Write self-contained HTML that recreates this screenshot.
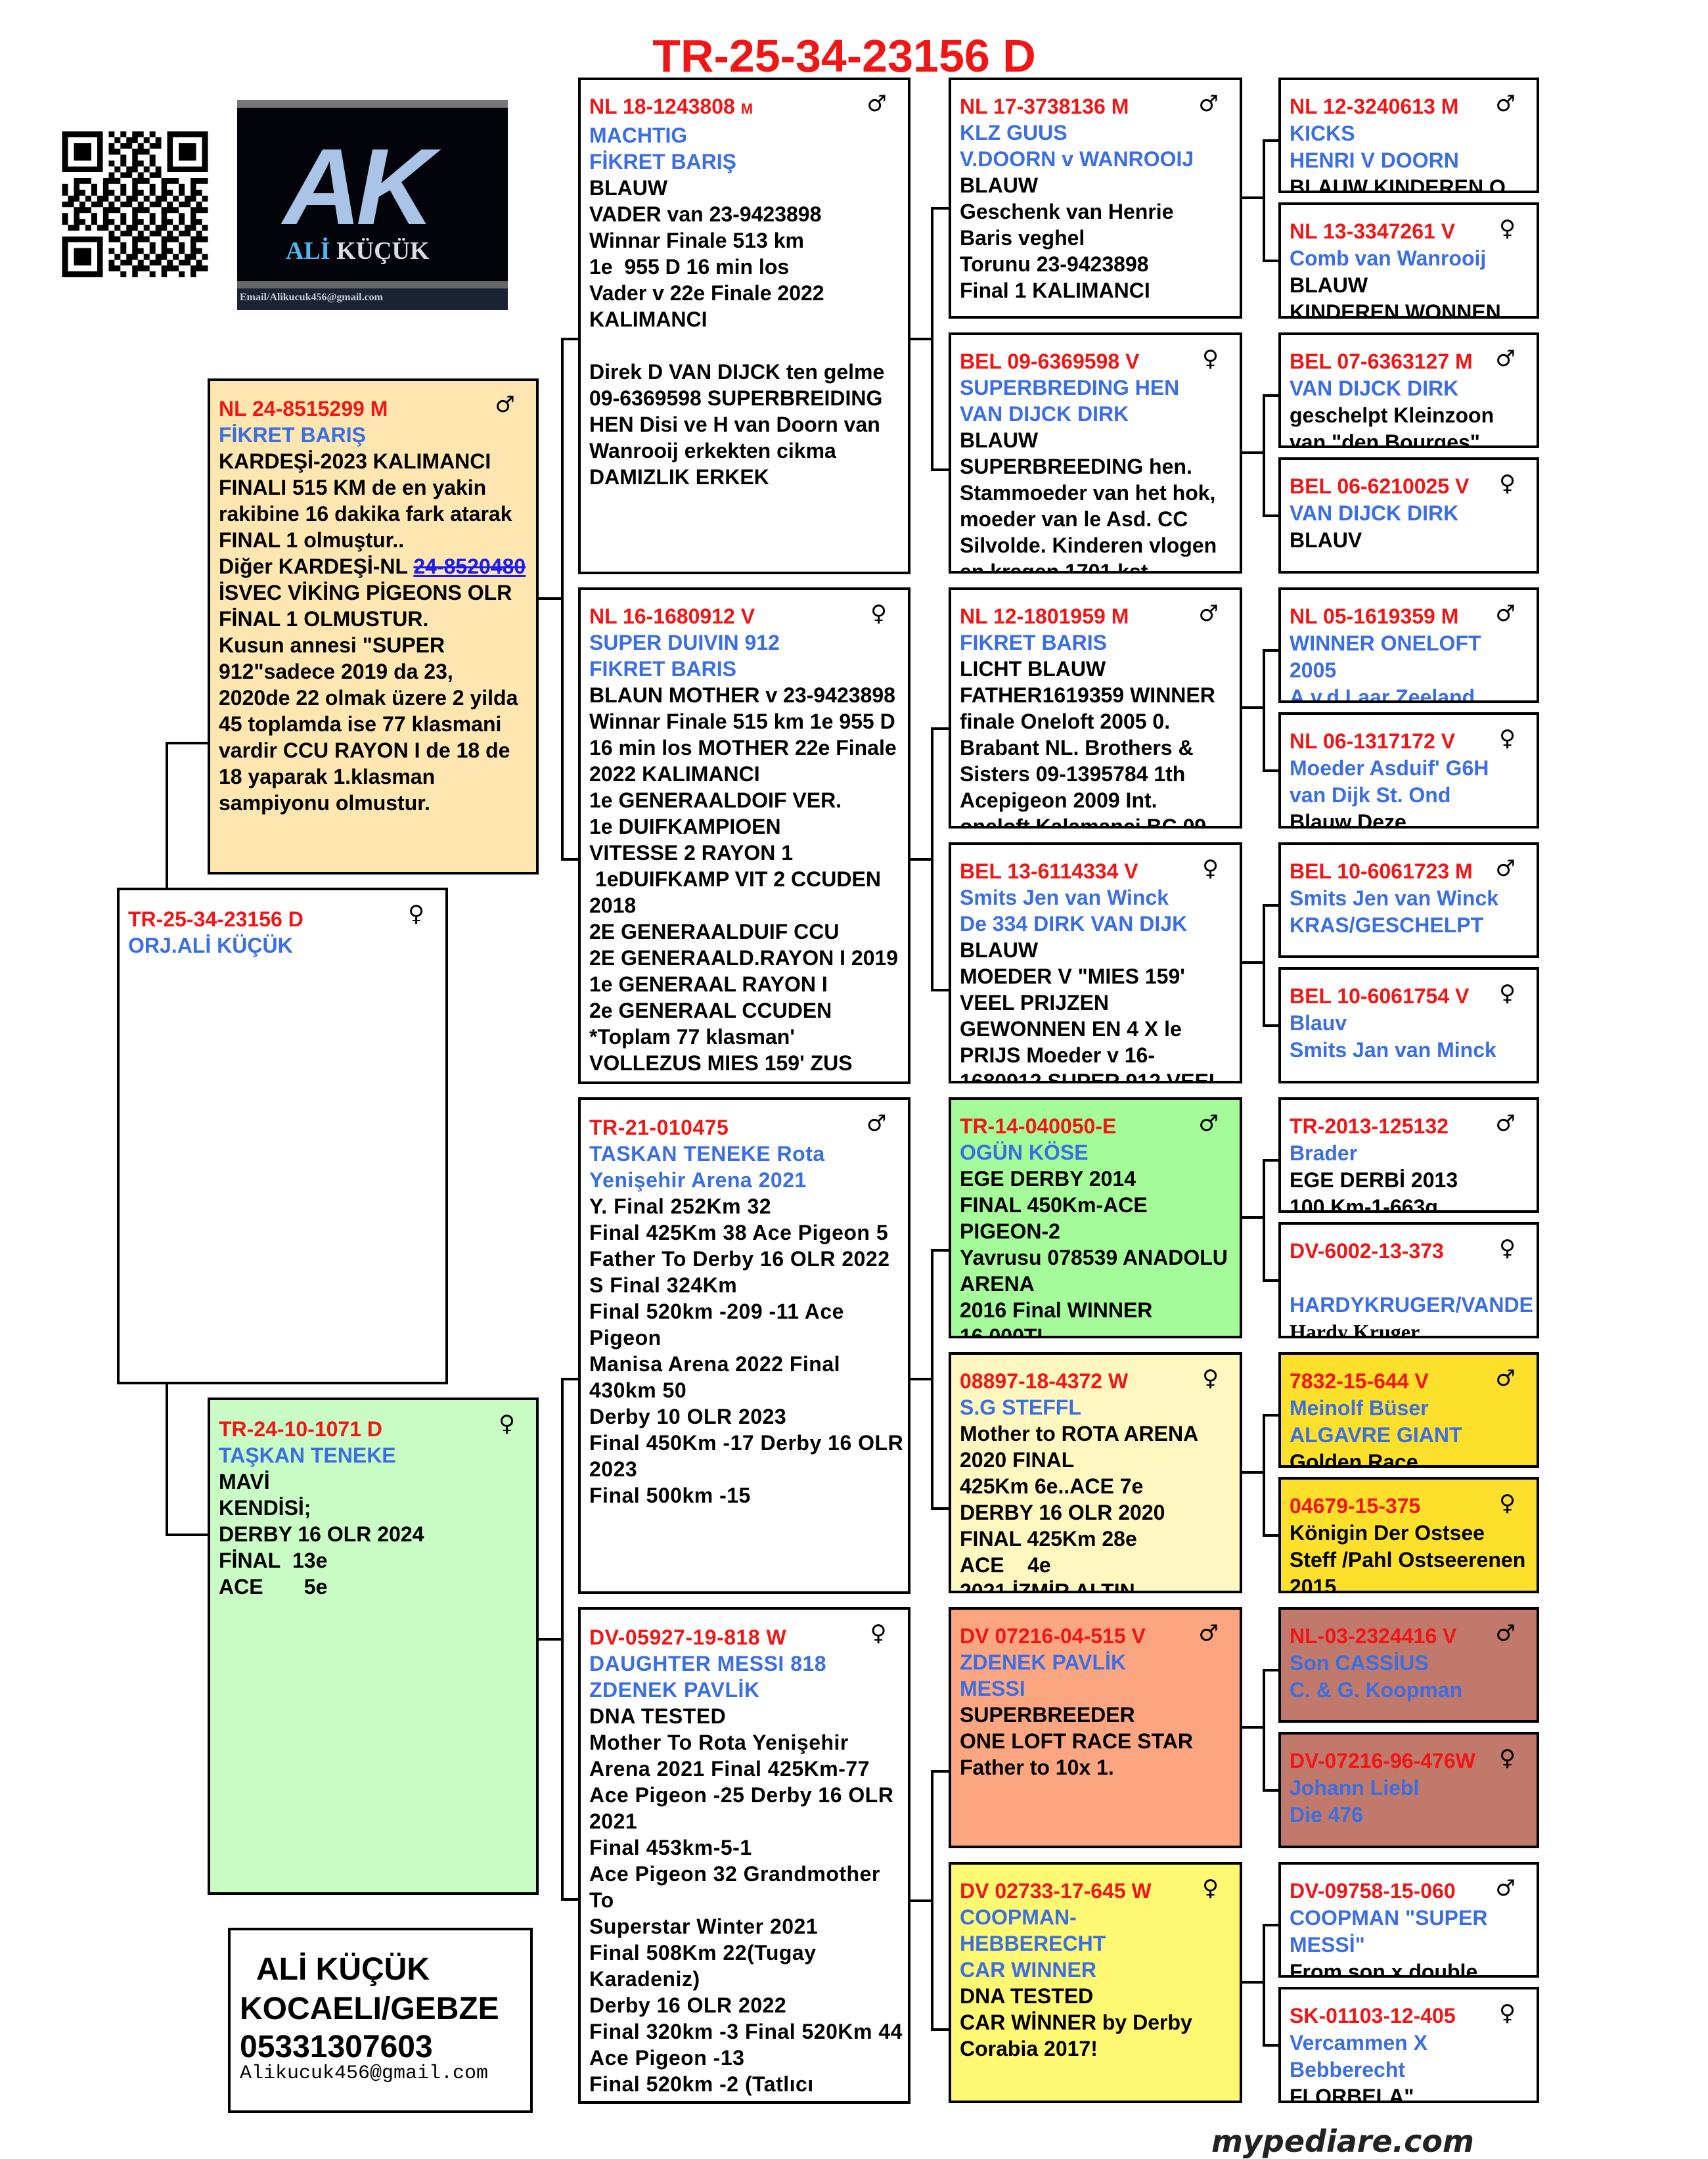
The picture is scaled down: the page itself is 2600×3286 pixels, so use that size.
<!DOCTYPE html>
<html><head><meta charset="utf-8">
<style>
html,body{margin:0;padding:0;background:#fff;}
body{width:2600px;height:3274px;position:relative;overflow:hidden;font-family:"Liberation Sans",sans-serif;}
.bx{position:absolute;box-sizing:border-box;border:4px solid #000;background:#fff;overflow:hidden;padding:20px 6px 0 13px;font:700 32px/40px "Liberation Sans","DejaVu Sans",sans-serif;color:#000;white-space:nowrap}
.c4{line-height:41px}
.r{color:#f01616}.b{color:#3a6ee2}
.sx{position:absolute;right:32px;top:16px;font:400 34px/40px "DejaVu Sans",sans-serif;color:#000}
.ln{position:absolute;background:#000}
</style></head><body>

<div style="position:absolute;left:0;width:2570px;top:50px;text-align:center;font:700 70px/70px 'Liberation Sans',sans-serif;color:#f01616;">TR-25-34-23156 D</div>

<svg style="position:absolute;left:94px;top:200px" width="223" height="222" viewBox="0 0 25 25" shape-rendering="crispEdges">
<defs><pattern id="q" width="5" height="5" patternUnits="userSpaceOnUse">
<path d="M0 0h1v1h-1zM2 0h2v1h-2zM1 1h2v1h-2zM4 1h1v1h-1zM0 2h2v1h-2zM3 2h1v1h-1zM2 3h3v1h-3zM0 4h1v1h-1zM2 4h1v1h-1z" fill="#000"/></pattern></defs>
<rect x="0" y="0" width="25" height="25" fill="url(#q)"/>
<rect x="0" y="0" width="8" height="8" fill="#fff"/><rect x="17" y="0" width="8" height="8" fill="#fff"/><rect x="0" y="17" width="8" height="8" fill="#fff"/>
<path d="M0 0h7v7h-7zM1 1v5h5v-5zM2 2h3v3h-3z M18 0h7v7h-7zM19 1v5h5v-5zM20 2h3v3h-3z M0 18h7v7h-7zM1 19v5h5v-5zM2 20h3v3h-3z" fill="#000" fill-rule="evenodd"/>
</svg>

<div style="position:absolute;left:361px;top:152px;width:412px;height:320px;background:#02040a;overflow:hidden">
 <div style="position:absolute;left:0;top:0;width:412px;height:12px;background:#777"></div>
 <div style="position:absolute;left:0;top:276px;width:412px;height:11px;background:#666"></div>
 <div style="position:absolute;left:0;top:287px;width:412px;height:33px;background:#1b2233"></div>
 <div style="position:absolute;left:70px;top:50px;font:italic 700 165px/165px 'Liberation Sans',sans-serif;color:#a9c4e6;letter-spacing:-8px">AK</div>
 <div style="position:absolute;left:74px;top:210px;font:700 38px/40px 'Liberation Serif',serif;color:#4fb6f0">ALİ <span style="color:#d8dde6">KÜÇÜK</span></div>
 <div style="position:absolute;left:4px;top:291px;font:700 16px/20px 'Liberation Serif',serif;color:#c8ccd4">Email/Alikucuk456@gmail.com</div>
</div>

<div class="ln" style="left:252px;top:1131px;width:4px;height:1207px"></div>
<div class="ln" style="left:252px;top:1129px;width:66px;height:4px"></div>
<div class="ln" style="left:252px;top:2334px;width:66px;height:4px"></div>

<div class="ln" style="left:854px;top:516px;width:4px;height:794px"></div>
<div class="ln" style="left:818px;top:909px;width:40px;height:4px"></div>
<div class="ln" style="left:854px;top:514px;width:28px;height:4px"></div>
<div class="ln" style="left:854px;top:1306px;width:28px;height:4px"></div>

<div class="ln" style="left:854px;top:2099px;width:4px;height:794px"></div>
<div class="ln" style="left:818px;top:2493px;width:40px;height:4px"></div>
<div class="ln" style="left:854px;top:2097px;width:28px;height:4px"></div>
<div class="ln" style="left:854px;top:2889px;width:28px;height:4px"></div>

<div class="ln" style="left:1384px;top:514px;width:37px;height:4px"></div>
<div class="ln" style="left:1417px;top:317px;width:4px;height:400px"></div>
<div class="ln" style="left:1417px;top:315px;width:29px;height:4px"></div>
<div class="ln" style="left:1417px;top:713px;width:29px;height:4px"></div>

<div class="ln" style="left:1384px;top:1306px;width:37px;height:4px"></div>
<div class="ln" style="left:1417px;top:1109px;width:4px;height:400px"></div>
<div class="ln" style="left:1417px;top:1107px;width:29px;height:4px"></div>
<div class="ln" style="left:1417px;top:1505px;width:29px;height:4px"></div>

<div class="ln" style="left:1384px;top:2097px;width:37px;height:4px"></div>
<div class="ln" style="left:1417px;top:1903px;width:4px;height:395px"></div>
<div class="ln" style="left:1417px;top:1901px;width:29px;height:4px"></div>
<div class="ln" style="left:1417px;top:2294px;width:29px;height:4px"></div>

<div class="ln" style="left:1384px;top:2891px;width:37px;height:4px"></div>
<div class="ln" style="left:1417px;top:2696px;width:4px;height:395px"></div>
<div class="ln" style="left:1417px;top:2694px;width:29px;height:4px"></div>
<div class="ln" style="left:1417px;top:3087px;width:29px;height:4px"></div>

<div class="ln" style="left:1889px;top:299px;width:37px;height:4px"></div><div class="ln" style="left:1922px;top:214px;width:4px;height:185px"></div><div class="ln" style="left:1922px;top:212px;width:26px;height:4px"></div><div class="ln" style="left:1922px;top:395px;width:26px;height:4px"></div>
<div class="ln" style="left:1889px;top:687px;width:37px;height:4px"></div><div class="ln" style="left:1922px;top:602px;width:4px;height:185px"></div><div class="ln" style="left:1922px;top:600px;width:26px;height:4px"></div><div class="ln" style="left:1922px;top:783px;width:26px;height:4px"></div>
<div class="ln" style="left:1889px;top:1075px;width:37px;height:4px"></div><div class="ln" style="left:1922px;top:990px;width:4px;height:185px"></div><div class="ln" style="left:1922px;top:988px;width:26px;height:4px"></div><div class="ln" style="left:1922px;top:1171px;width:26px;height:4px"></div>
<div class="ln" style="left:1889px;top:1463px;width:37px;height:4px"></div><div class="ln" style="left:1922px;top:1378px;width:4px;height:185px"></div><div class="ln" style="left:1922px;top:1376px;width:26px;height:4px"></div><div class="ln" style="left:1922px;top:1559px;width:26px;height:4px"></div>
<div class="ln" style="left:1889px;top:1851px;width:37px;height:4px"></div><div class="ln" style="left:1922px;top:1766px;width:4px;height:185px"></div><div class="ln" style="left:1922px;top:1764px;width:26px;height:4px"></div><div class="ln" style="left:1922px;top:1947px;width:26px;height:4px"></div>
<div class="ln" style="left:1889px;top:2239px;width:37px;height:4px"></div><div class="ln" style="left:1922px;top:2154px;width:4px;height:185px"></div><div class="ln" style="left:1922px;top:2152px;width:26px;height:4px"></div><div class="ln" style="left:1922px;top:2335px;width:26px;height:4px"></div>
<div class="ln" style="left:1889px;top:2627px;width:37px;height:4px"></div><div class="ln" style="left:1922px;top:2542px;width:4px;height:185px"></div><div class="ln" style="left:1922px;top:2540px;width:26px;height:4px"></div><div class="ln" style="left:1922px;top:2723px;width:26px;height:4px"></div>
<div class="ln" style="left:1889px;top:3015px;width:37px;height:4px"></div><div class="ln" style="left:1922px;top:2930px;width:4px;height:185px"></div><div class="ln" style="left:1922px;top:2928px;width:26px;height:4px"></div><div class="ln" style="left:1922px;top:3111px;width:26px;height:4px"></div>

<div class="bx" style="left:316px;top:576px;width:504px;height:755px;background:#fde6b0;padding-top:22px"><span class="sx">♂</span>
<span class="r">NL 24-8515299 M</span><br><span class="b">FİKRET BARIŞ</span><br>KARDEŞİ-2023 KALIMANCI<br>FINALI 515 KM de en yakin<br>rakibine 16 dakika fark atarak<br>FINAL 1 olmuştur..<br>Diğer KARDEŞİ-NL <span style="color:#1a1aee;text-decoration:underline line-through">24-8520480</span><br>İSVEC VİKİNG PİGEONS OLR<br>FİNAL 1 OLMUSTUR.<br>Kusun annesi "SUPER<br>912"sadece 2019 da 23,<br>2020de 22 olmak üzere 2 yilda<br>45 toplamda ise 77 klasmani<br>vardir CCU RAYON I de 18 de<br>18 yaparak 1.klasman<br>sampiyonu olmustur.</div>

<div class="bx" style="left:178px;top:1351px;width:504px;height:756px;padding-top:24px"><span class="sx">♀</span>
<span class="r">TR-25-34-23156 D</span><br><span class="b">ORJ.ALİ KÜÇÜK</span></div>

<div class="bx" style="left:316px;top:2127px;width:504px;height:757px;background:#c8fcc4;padding-top:24px"><span class="sx">♀</span>
<span class="r">TR-24-10-1071 D</span><br><span class="b">TAŞKAN TENEKE</span><br>MAVİ<br>KENDİSİ;<br>DERBY 16 OLR 2024<br>FİNAL&nbsp; 13e<br>ACE&nbsp;&nbsp;&nbsp;&nbsp;&nbsp;&nbsp; 5e</div>

<div style="position:absolute;left:347px;top:2934px;width:464px;height:282px;box-sizing:border-box;border:4px solid #000;background:#fff;white-space:nowrap">
 <div style="position:absolute;left:39px;top:30px;font:700 48px/60px 'Liberation Sans',sans-serif">ALİ KÜÇÜK</div>
 <div style="position:absolute;left:14px;top:90px;font:700 48px/60px 'Liberation Sans',sans-serif">KOCAELI/GEBZE</div>
 <div style="position:absolute;left:14px;top:148px;font:700 48px/60px 'Liberation Sans',sans-serif">05331307603</div>
 <div style="position:absolute;left:14px;top:200px;font:400 30px/36px 'Liberation Mono',monospace">Alikucuk456@gmail.com</div>
</div>

<div class="bx" style="left:880px;top:118px;width:506px;height:756px"><span class="sx">♂</span>
<span class="r">NL 18-1243808 <span style="font-size:22px">M</span></span><br><span class="b">MACHTIG</span><br><span class="b">FİKRET BARIŞ</span><br>BLAUW<br>VADER van 23-9423898<br>Winnar Finale 513 km<br>1e&nbsp; 955 D 16 min los<br>Vader v 22e Finale 2022<br>KALIMANCI<br><br>Direk D VAN DIJCK ten gelme<br>09-6369598 SUPERBREIDING<br>HEN Disi ve H van Doorn van<br>Wanrooij erkekten cikma<br>DAMIZLIK ERKEK</div>

<div class="bx" style="left:880px;top:894px;width:506px;height:756px"><span class="sx">♀</span>
<span class="r">NL 16-1680912 V</span><br><span class="b">SUPER DUIVIN 912</span><br><span class="b">FIKRET BARIS</span><br>BLAUN MOTHER v 23-9423898<br>Winnar Finale 515 km 1e 955 D<br>16 min los MOTHER 22e Finale<br>2022 KALIMANCI<br>1e GENERAALDOIF VER.<br>1e DUIFKAMPIOEN<br>VITESSE 2 RAYON 1<br>&nbsp;1eDUIFKAMP VIT 2 CCUDEN<br>2018<br>2E GENERAALDUIF CCU<br>2E GENERAALD.RAYON I 2019<br>1e GENERAAL RAYON I<br>2e GENERAAL CCUDEN<br>*Toplam 77 klasman'<br>VOLLEZUS MIES 159' ZUS</div>

<div class="bx" style="left:880px;top:1670px;width:506px;height:756px;padding-top:22px;letter-spacing:0.5px"><span class="sx">♂</span>
<span class="r">TR-21-010475</span><br><span class="b">TASKAN TENEKE Rota</span><br><span class="b">Yenişehir Arena 2021</span><br>Y. Final 252Km 32<br>Final 425Km 38 Ace Pigeon 5<br>Father To Derby 16 OLR 2022<br>S Final 324Km<br>Final 520km -209 -11 Ace<br>Pigeon<br>Manisa Arena 2022 Final<br>430km 50<br>Derby 10 OLR 2023<br>Final 450Km -17 Derby 16 OLR<br>2023<br>Final 500km -15</div>

<div class="bx" style="left:880px;top:2446px;width:506px;height:756px;padding-top:22px;letter-spacing:0.5px"><span class="sx">♀</span>
<span class="r">DV-05927-19-818 W</span><br><span class="b">DAUGHTER MESSI 818</span><br><span class="b">ZDENEK PAVLİK</span><br>DNA TESTED<br>Mother To Rota Yenişehir<br>Arena 2021 Final 425Km-77<br>Ace Pigeon -25 Derby 16 OLR<br>2021<br>Final 453km-5-1<br>Ace Pigeon 32 Grandmother<br>To<br>Superstar Winter 2021<br>Final 508Km 22(Tugay<br>Karadeniz)<br>Derby 16 OLR 2022<br>Final 320km -3 Final 520Km 44<br>Ace Pigeon -13<br>Final 520km -2 (Tatlıcı</div>

<div class="bx" style="left:1444px;top:118px;width:447px;height:367px"><span class="sx">♂</span>
<span class="r">NL 17-3738136 M</span><br><span class="b">KLZ GUUS</span><br><span class="b">V.DOORN v WANROOIJ</span><br>BLAUW<br>Geschenk van Henrie<br>Baris veghel<br>Torunu 23-9423898<br>Final 1 KALIMANCI</div>

<div class="bx" style="left:1444px;top:506px;width:447px;height:367px"><span class="sx">♀</span>
<span class="r">BEL 09-6369598 V</span><br><span class="b">SUPERBREDING HEN</span><br><span class="b">VAN DIJCK DIRK</span><br>BLAUW<br>SUPERBREEDING hen.<br>Stammoeder van het hok,<br>moeder van le Asd. CC<br>Silvolde. Kinderen vlogen<br>en kregen 1701 kst</div>

<div class="bx" style="left:1444px;top:894px;width:447px;height:367px"><span class="sx">♂</span>
<span class="r">NL 12-1801959 M</span><br><span class="b">FIKRET BARIS</span><br>LICHT BLAUW<br>FATHER1619359 WINNER<br>finale Oneloft 2005 0.<br>Brabant NL. Brothers &amp;<br>Sisters 09-1395784 1th<br>Acepigeon 2009 Int.<br>oneloft Kalamanci BC 09</div>

<div class="bx" style="left:1444px;top:1282px;width:447px;height:367px"><span class="sx">♀</span>
<span class="r">BEL 13-6114334 V</span><br><span class="b">Smits Jen van Winck</span><br><span class="b">De 334 DIRK VAN DIJK</span><br>BLAUW<br>MOEDER V "MIES 159'<br>VEEL PRIJZEN<br>GEWONNEN EN 4 X le<br>PRIJS Moeder v 16-<br>1680912 SUPER 912 VEEL</div>

<div class="bx" style="left:1444px;top:1670px;width:447px;height:367px;background:#a5fa9a"><span class="sx">♂</span>
<span class="r">TR-14-040050-E</span><br><span class="b">OGÜN KÖSE</span><br>EGE DERBY 2014<br>FINAL 450Km-ACE<br>PIGEON-2<br>Yavrusu 078539 ANADOLU<br>ARENA<br>2016 Final WINNER<br>16.000TL</div>

<div class="bx" style="left:1444px;top:2058px;width:447px;height:367px;background:#fff7c0"><span class="sx">♀</span>
<span class="r">08897-18-4372 W</span><br><span class="b">S.G STEFFL</span><br>Mother to ROTA ARENA<br>2020 FINAL<br>425Km 6e..ACE 7e<br>DERBY 16 OLR 2020<br>FINAL 425Km 28e<br>ACE&nbsp;&nbsp;&nbsp; 4e<br>2021 İZMİR ALTIN</div>

<div class="bx" style="left:1444px;top:2446px;width:447px;height:367px;background:#fca681"><span class="sx">♂</span>
<span class="r">DV 07216-04-515 V</span><br><span class="b">ZDENEK PAVLİK</span><br><span class="b">MESSI</span><br>SUPERBREEDER<br>ONE LOFT RACE STAR<br>Father to 10x 1.</div>

<div class="bx" style="left:1444px;top:2834px;width:447px;height:367px;background:#fff873"><span class="sx">♀</span>
<span class="r">DV 02733-17-645 W</span><br><span class="b">COOPMAN-</span><br><span class="b">HEBBERECHT</span><br><span class="b">CAR WINNER</span><br>DNA TESTED<br>CAR WİNNER by Derby<br>Corabia 2017!</div>

<div class="bx c4" style="left:1946px;top:118px;width:397px;height:176px"><span class="sx">♂</span><span class="r">NL 12-3240613 M</span><br><span class="b">KICKS</span><br><span class="b">HENRI V DOORN</span><br>BLAUW KINDEREN O</div>
<div class="bx c4" style="left:1946px;top:308px;width:397px;height:177px"><span class="sx">♀</span><span class="r">NL 13-3347261 V</span><br><span class="b">Comb van Wanrooij</span><br>BLAUW<br>KINDEREN WONNEN</div>
<div class="bx c4" style="left:1946px;top:506px;width:397px;height:176px"><span class="sx">♂</span><span class="r">BEL 07-6363127 M</span><br><span class="b">VAN DIJCK DIRK</span><br>geschelpt Kleinzoon<br>van "den Bourges"</div>
<div class="bx c4" style="left:1946px;top:696px;width:397px;height:177px"><span class="sx">♀</span><span class="r">BEL 06-6210025 V</span><br><span class="b">VAN DIJCK DIRK</span><br>BLAUV</div>
<div class="bx c4" style="left:1946px;top:894px;width:397px;height:176px"><span class="sx">♂</span><span class="r">NL 05-1619359 M</span><br><span class="b">WINNER ONELOFT</span><br><span class="b">2005</span><br><span class="b">A.v.d.Laar Zeeland</span></div>
<div class="bx c4" style="left:1946px;top:1084px;width:397px;height:177px"><span class="sx">♀</span><span class="r">NL 06-1317172 V</span><br><span class="b">Moeder Asduif' G6H</span><br><span class="b">van Dijk St. Ond</span><br>Blauw Deze</div>
<div class="bx c4" style="left:1946px;top:1282px;width:397px;height:176px"><span class="sx">♂</span><span class="r">BEL 10-6061723 M</span><br><span class="b">Smits Jen van Winck</span><br><span class="b">KRAS/GESCHELPT</span></div>
<div class="bx c4" style="left:1946px;top:1472px;width:397px;height:177px"><span class="sx">♀</span><span class="r">BEL 10-6061754 V</span><br><span class="b">Blauv</span><br><span class="b">Smits Jan van Minck</span></div>
<div class="bx c4" style="left:1946px;top:1670px;width:397px;height:176px"><span class="sx">♂</span><span class="r">TR-2013-125132</span><br><span class="b">Brader</span><br>EGE DERBİ 2013<br>100 Km-1-663g</div>
<div class="bx c4" style="left:1946px;top:1860px;width:397px;height:177px"><span class="sx">♀</span><span class="r">DV-6002-13-373</span><br><br><span class="b">HARDYKRUGER/VANDE</span><br><span style="font-family:'Liberation Serif',serif">Hardy Kruger</span></div>
<div class="bx c4" style="left:1946px;top:2058px;width:397px;height:176px;background:#fde02c"><span class="sx">♂</span><span class="r">7832-15-644 V</span><br><span class="b">Meinolf Büser</span><br><span class="b">ALGAVRE GIANT</span><br>Golden Race</div>
<div class="bx c4" style="left:1946px;top:2248px;width:397px;height:177px;background:#fde02c"><span class="sx">♀</span><span class="r">04679-15-375</span><br>Königin Der Ostsee<br>Steff /Pahl Ostseerenen<br>2015</div>
<div class="bx c4" style="left:1946px;top:2446px;width:397px;height:176px;background:#c0796b"><span class="sx">♂</span><span class="r">NL-03-2324416 V</span><br><span class="b">Son CASSİUS</span><br><span class="b">C. &amp; G. Koopman</span></div>
<div class="bx c4" style="left:1946px;top:2636px;width:397px;height:177px;background:#c0796b"><span class="sx">♀</span><span class="r">DV-07216-96-476W</span><br><span class="b">Johann Liebl</span><br><span class="b">Die 476</span></div>
<div class="bx c4" style="left:1946px;top:2834px;width:397px;height:176px"><span class="sx">♂</span><span class="r">DV-09758-15-060</span><br><span class="b">COOPMAN "SUPER</span><br><span class="b">MESSİ"</span><br>From son x double</div>
<div class="bx c4" style="left:1946px;top:3024px;width:397px;height:177px"><span class="sx">♀</span><span class="r">SK-01103-12-405</span><br><span class="b">Vercammen X</span><br><span class="b">Bebberecht</span><br>FLORBELA"</div>

<div style="position:absolute;left:1844px;top:3236px;font:italic 700 46px/46px 'DejaVu Sans','Liberation Sans',sans-serif;color:#222;white-space:nowrap">mypediare.com</div>

</body></html>
